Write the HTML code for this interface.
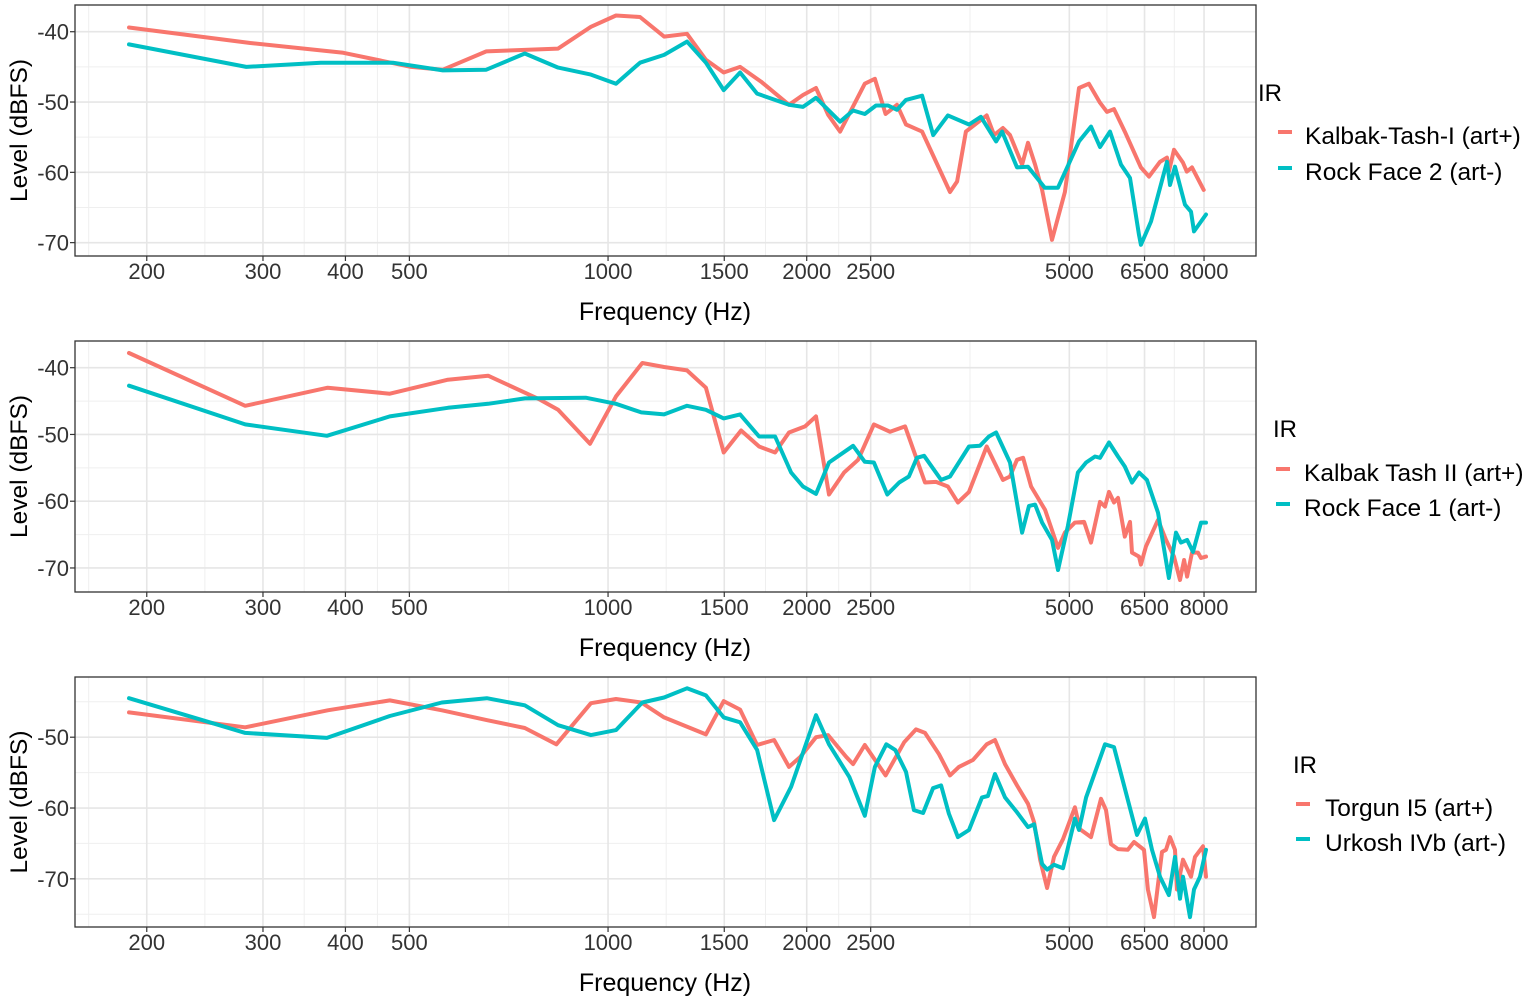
<!DOCTYPE html>
<html><head><meta charset="utf-8">
<style>
html,body{margin:0;padding:0;background:#fff;}
svg{display:block;font-family:"Liberation Sans",Arial,sans-serif;}
</style></head>
<body>
<svg id="chart" width="1535" height="1002" viewBox="0 0 1535 1002" xmlns="http://www.w3.org/2000/svg"></svg>
<script>
// ---- shared axis data ----
const xBreaks = [200,300,400,500,1000,1500,2000,2500,5000,6500,8000];
const xTickLabels = ["200","300","400","500","1000","1500","2000","2500","5000","6500","8000"];
const yBreaks12 = [-40,-50,-60,-70];
const yBreaks3 = [-50,-60,-70];

// ---- Panel 1 data ----
const p1RedFreq = [188,287,397,503,562,654,840,942,1028,1118,1216,1317,1407,1497,1585,1705,1880,1974,2066,2155,2247,2449,2537,2634,2741,2828,2991,3297,3380,3485,3748,3845,3966,4065,4240,4329,4437,4546,4707,4924,5172,5353,5565,5702,5843,6067,6419,6602,6860,7029,7078,7203,7430,7533,7670,7990];
const p1RedLevel = [-39.4,-41.6,-43.0,-45.0,-45.4,-42.8,-42.4,-39.3,-37.7,-37.9,-40.7,-40.3,-44.0,-45.8,-45.0,-47.1,-50.4,-49.0,-48.0,-51.8,-54.2,-47.4,-46.7,-51.7,-50.4,-53.2,-54.2,-62.8,-61.3,-54.2,-51.9,-54.7,-53.7,-54.7,-58.9,-55.8,-58.9,-62.5,-69.6,-62.8,-48.0,-47.4,-50.1,-51.4,-51.0,-54.2,-59.3,-60.6,-58.5,-57.9,-59.9,-56.8,-58.6,-59.9,-59.3,-62.5];
const p1TealFreq = [188,283,367,472,562,654,748,840,942,1028,1118,1216,1317,1407,1497,1585,1682,1880,1974,2066,2247,2351,2449,2547,2657,2741,2828,2991,3109,3273,3523,3673,3872,3955,4166,4329,4590,4805,5172,5393,5565,5762,5987,6178,6376,6419,6648,7029,7103,7230,7485,7644,7724,8055];
const p1TealLevel = [-41.8,-45.0,-44.4,-44.4,-45.5,-45.4,-43.1,-45.1,-46.1,-47.4,-44.4,-43.3,-41.4,-44.4,-48.3,-45.8,-48.8,-50.4,-50.7,-49.4,-52.8,-51.2,-51.7,-50.5,-50.5,-51.1,-49.7,-49.1,-54.7,-51.9,-53.2,-52.1,-55.6,-54.2,-59.3,-59.2,-62.2,-62.2,-55.6,-53.5,-56.4,-54.2,-58.9,-60.8,-68.9,-70.3,-67.0,-58.5,-61.8,-59.2,-64.6,-65.6,-68.4,-66.0];

// ---- Panel 2 data ----
const p2RedFreq = [188,282,376,467,572,658,789,840,939,1028,1127,1216,1317,1407,1497,1591,1694,1791,1880,1989,2066,2162,2279,2393,2528,2675,2819,3022,3140,3273,3389,3523,3748,3966,4065,4166,4255,4375,4595,4806,4924,5098,5264,5393,5565,5663,5743,5843,5925,6067,6178,6222,6376,6419,6532,6813,7005,7203,7356,7461,7540,7670,7833,7916,8055];
const p2RedLevel = [-37.8,-45.7,-43.0,-43.9,-41.8,-41.2,-44.8,-46.3,-51.4,-44.3,-39.3,-39.9,-40.4,-43.0,-52.7,-49.4,-51.8,-52.7,-49.7,-48.8,-47.3,-59.0,-55.7,-53.8,-48.5,-49.6,-48.8,-57.2,-57.1,-57.8,-60.2,-58.6,-51.8,-56.8,-56.3,-53.8,-53.5,-57.8,-61.3,-67.0,-64.7,-63.2,-63.1,-66.2,-60.1,-60.8,-58.6,-60.2,-59.5,-65.3,-63.1,-67.7,-68.3,-69.5,-66.8,-62.8,-65.8,-68.3,-71.8,-68.8,-71.3,-67.7,-67.7,-68.5,-68.3];
const p2TealFreq = [188,282,375,467,572,658,748,925,1028,1123,1216,1317,1407,1497,1585,1694,1791,1894,1974,2066,2162,2351,2449,2528,2649,2762,2857,2938,3012,3196,3297,3523,3661,3776,3872,4065,4240,4344,4437,4546,4707,4806,4975,5152,5301,5469,5565,5743,5925,6067,6222,6376,6555,6813,7078,7254,7382,7540,7697,7916,8055];
const p2TealLevel = [-42.7,-48.5,-50.2,-47.3,-46.0,-45.4,-44.6,-44.5,-45.4,-46.7,-47.0,-45.7,-46.3,-47.6,-47.0,-50.3,-50.3,-55.7,-57.8,-58.9,-54.2,-51.7,-54.1,-54.2,-59.0,-57.2,-56.3,-53.5,-53.2,-56.8,-56.3,-51.8,-51.7,-50.3,-49.7,-54.2,-64.7,-60.7,-60.5,-63.2,-65.8,-70.3,-63.7,-55.7,-54.2,-53.3,-53.5,-51.2,-53.3,-54.8,-57.2,-55.7,-56.8,-61.7,-71.5,-64.7,-66.2,-65.8,-67.6,-63.2,-63.2];

// ---- Panel 3 data ----
const p3RedFreq = [188,282,376,467,560,656,748,835,942,1028,1123,1216,1407,1497,1585,1682,1785,1880,1955,2066,2155,2296,2351,2449,2634,2810,2928,3022,3173,3297,3401,3573,3748,3858,3995,4166,4329,4421,4515,4626,4740,4891,5098,5190,5393,5584,5683,5783,5925,6131,6266,6487,6578,6719,6909,7005,7103,7229,7280,7434,7644,7751,7972,8055];
const p3RedLevel = [-46.5,-48.6,-46.2,-44.8,-46.2,-47.6,-48.7,-51.0,-45.2,-44.6,-45.1,-47.2,-49.6,-44.9,-46.1,-51.1,-50.4,-54.2,-52.8,-50.0,-49.7,-52.8,-53.8,-51.1,-55.4,-50.7,-48.9,-49.4,-52.4,-55.4,-54.2,-53.2,-51.0,-50.4,-53.8,-56.8,-59.4,-62.0,-67.3,-71.3,-66.9,-64.4,-59.9,-63.0,-64.1,-58.7,-60.3,-65.1,-65.8,-65.9,-64.8,-65.9,-71.5,-75.4,-66.2,-65.9,-64.1,-65.9,-71.5,-67.3,-69.7,-66.9,-65.4,-69.7];
const p3TealFreq = [188,282,375,467,560,655,748,840,942,1028,1127,1216,1317,1407,1497,1585,1682,1785,1894,2066,2162,2320,2449,2537,2640,2723,2828,2907,3002,3107,3196,3285,3389,3523,3687,3763,3858,3995,4166,4329,4421,4546,4626,4740,4891,5098,5172,5301,5663,5843,6332,6510,6672,6860,7078,7229,7356,7434,7617,7724,7888,8055];
const p3TealLevel = [-44.5,-49.4,-50.1,-47.0,-45.1,-44.5,-45.5,-48.3,-49.7,-49.0,-45.1,-44.4,-43.1,-44.1,-47.2,-47.9,-51.8,-61.7,-57.0,-46.9,-51.0,-55.6,-61.1,-54.2,-51.0,-51.8,-54.9,-60.3,-60.7,-57.2,-56.8,-60.8,-64.1,-63.1,-58.5,-58.3,-55.2,-58.5,-60.6,-62.7,-62.3,-67.9,-68.7,-68.0,-68.5,-61.5,-63.1,-58.5,-51.0,-51.4,-63.8,-61.5,-65.9,-69.7,-72.3,-66.9,-72.8,-69.7,-75.4,-71.5,-69.7,-65.9];

const RED = "#F8766D", TEAL = "#00BFC4";
const NS = "http://www.w3.org/2000/svg";
const svg = document.getElementById("chart");

const X0 = 75, X1 = 1256, FMIN = 155.7, FMAX = 9590;
function xScale(f){ return X0 + (Math.log10(f) - Math.log10(FMIN)) / (Math.log10(FMAX) - Math.log10(FMIN)) * (X1 - X0); }

function mk(tag, attrs, parent){
  const el = document.createElementNS(NS, tag);
  for (const k in attrs) el.setAttribute(k, attrs[k]);
  (parent || svg).appendChild(el);
  return el;
}

const panels = [
  {top:5, bottom:256, ymin:-71.9, ymax:-36.2, yb:yBreaks12, minors:[-45,-55,-65],
   series:[[p1RedFreq,p1RedLevel,RED],[p1TealFreq,p1TealLevel,TEAL]],
   legendTitleX:1258, legendTitleY:92, legendKeyX:1278, legendLabelX:1305, legendY:[136,172],
   labels:["Kalbak-Tash-I (art+)","Rock Face 2 (art-)"]},
  {top:341, bottom:592, ymin:-73.6, ymax:-36.0, yb:yBreaks12, minors:[-45,-55,-65],
   series:[[p2RedFreq,p2RedLevel,RED],[p2TealFreq,p2TealLevel,TEAL]],
   legendTitleX:1273, legendTitleY:428, legendKeyX:1276, legendLabelX:1304, legendY:[473,508],
   labels:["Kalbak Tash II (art+)","Rock Face 1 (art-)"]},
  {top:677, bottom:927, ymin:-76.8, ymax:-41.5, yb:yBreaks3, minors:[-45,-55,-65,-75],
   series:[[p3RedFreq,p3RedLevel,RED],[p3TealFreq,p3TealLevel,TEAL]],
   legendTitleX:1293, legendTitleY:764, legendKeyX:1296, legendLabelX:1325, legendY:[808,843],
   labels:["Torgun I5 (art+)","Urkosh IVb (art-)"]}
];

const xMinor = [];
xMinor.push(xBreaks[0] / Math.sqrt(xBreaks[1] / xBreaks[0]));
for (let i = 0; i < xBreaks.length - 1; i++) xMinor.push(Math.sqrt(xBreaks[i] * xBreaks[i+1]));

panels.forEach((p, pi) => {
  const g = mk("g", {});
  
  
  const yScale = v => p.bottom - (v - p.ymin) / (p.ymax - p.ymin) * (p.bottom - p.top);

  xMinor.forEach(f => { const x = xScale(f); if (x > X0 && x < X1) mk("line", {x1:x, x2:x, y1:p.top, y2:p.bottom, stroke:"#EFEFEF", "stroke-width":1}, g); });
  p.minors.forEach(v => { const y = yScale(v); mk("line", {x1:X0, x2:X1, y1:y, y2:y, stroke:"#EFEFEF", "stroke-width":1}, g); });
  xBreaks.forEach(f => { const x = xScale(f); mk("line", {x1:x, x2:x, y1:p.top, y2:p.bottom, stroke:"#E6E6E6", "stroke-width":1.6}, g); });
  p.yb.forEach(v => { const y = yScale(v); mk("line", {x1:X0, x2:X1, y1:y, y2:y, stroke:"#E6E6E6", "stroke-width":1.6}, g); });

  p.series.forEach((s, si) => {
    const pts = s[0].map((f, i) => xScale(f).toFixed(1) + "," + yScale(s[1][i]).toFixed(1)).join(" ");
    const pl = mk("polyline", {points:pts, fill:"none", stroke:s[2], "stroke-width":4, "stroke-linejoin":"round", "stroke-linecap":"round"}, g);
    
    
  });

  mk("rect", {x:X0, y:p.top, width:X1-X0, height:p.bottom-p.top, fill:"none", stroke:"#333", "stroke-width":1.3}, g);

  p.yb.forEach(v => {
    const y = yScale(v);
    mk("line", {x1:X0-5, x2:X0, y1:y, y2:y, stroke:"#333", "stroke-width":1.2}, g);
    const t = mk("text", {x:X0-6, y:y+8, "text-anchor":"end", "font-size":22, fill:"#333"}, g);
    t.textContent = String(v);
    
    
  });
  xBreaks.forEach((f, i) => {
    const x = xScale(f);
    mk("line", {x1:x, x2:x, y1:p.bottom, y2:p.bottom+5, stroke:"#333", "stroke-width":1.2}, g);
    const t = mk("text", {x:x, y:p.bottom+23, "text-anchor":"middle", "font-size":22, fill:"#333"}, g);
    t.textContent = xTickLabels[i];
    
    
  });

  const xt = mk("text", {x:665, y:p.bottom+64, "text-anchor":"middle", "font-size":25, fill:"#000"}, g);
  xt.textContent = "Frequency (Hz)";
  
  
  const cy = (p.top + p.bottom) / 2;
  const yt = mk("text", {x:27, y:cy, "text-anchor":"middle", "font-size":24.5, fill:"#000", transform:"rotate(-90 27 " + cy + ")"}, g);
  yt.textContent = "Level (dBFS)";
  
  

  const lg = mk("g", {}, g);
  
  
  const lt = mk("text", {x:p.legendTitleX, y:p.legendTitleY + 9, "font-size":24, fill:"#000"}, lg);
  lt.textContent = "IR";
  
  
  [RED, TEAL].forEach((c, i) => {
    const y = p.legendY[i];
    const k = mk("line", {x1:p.legendKeyX, x2:p.legendKeyX+14, y1:y-4, y2:y-4, stroke:c, "stroke-width":4}, lg);
    
    
    const t = mk("text", {x:p.legendLabelX, y:y+8, "font-size":24.5, fill:"#000"}, lg);
    t.textContent = p.labels[i];
    
    
  });
});
</script>
</body></html>
